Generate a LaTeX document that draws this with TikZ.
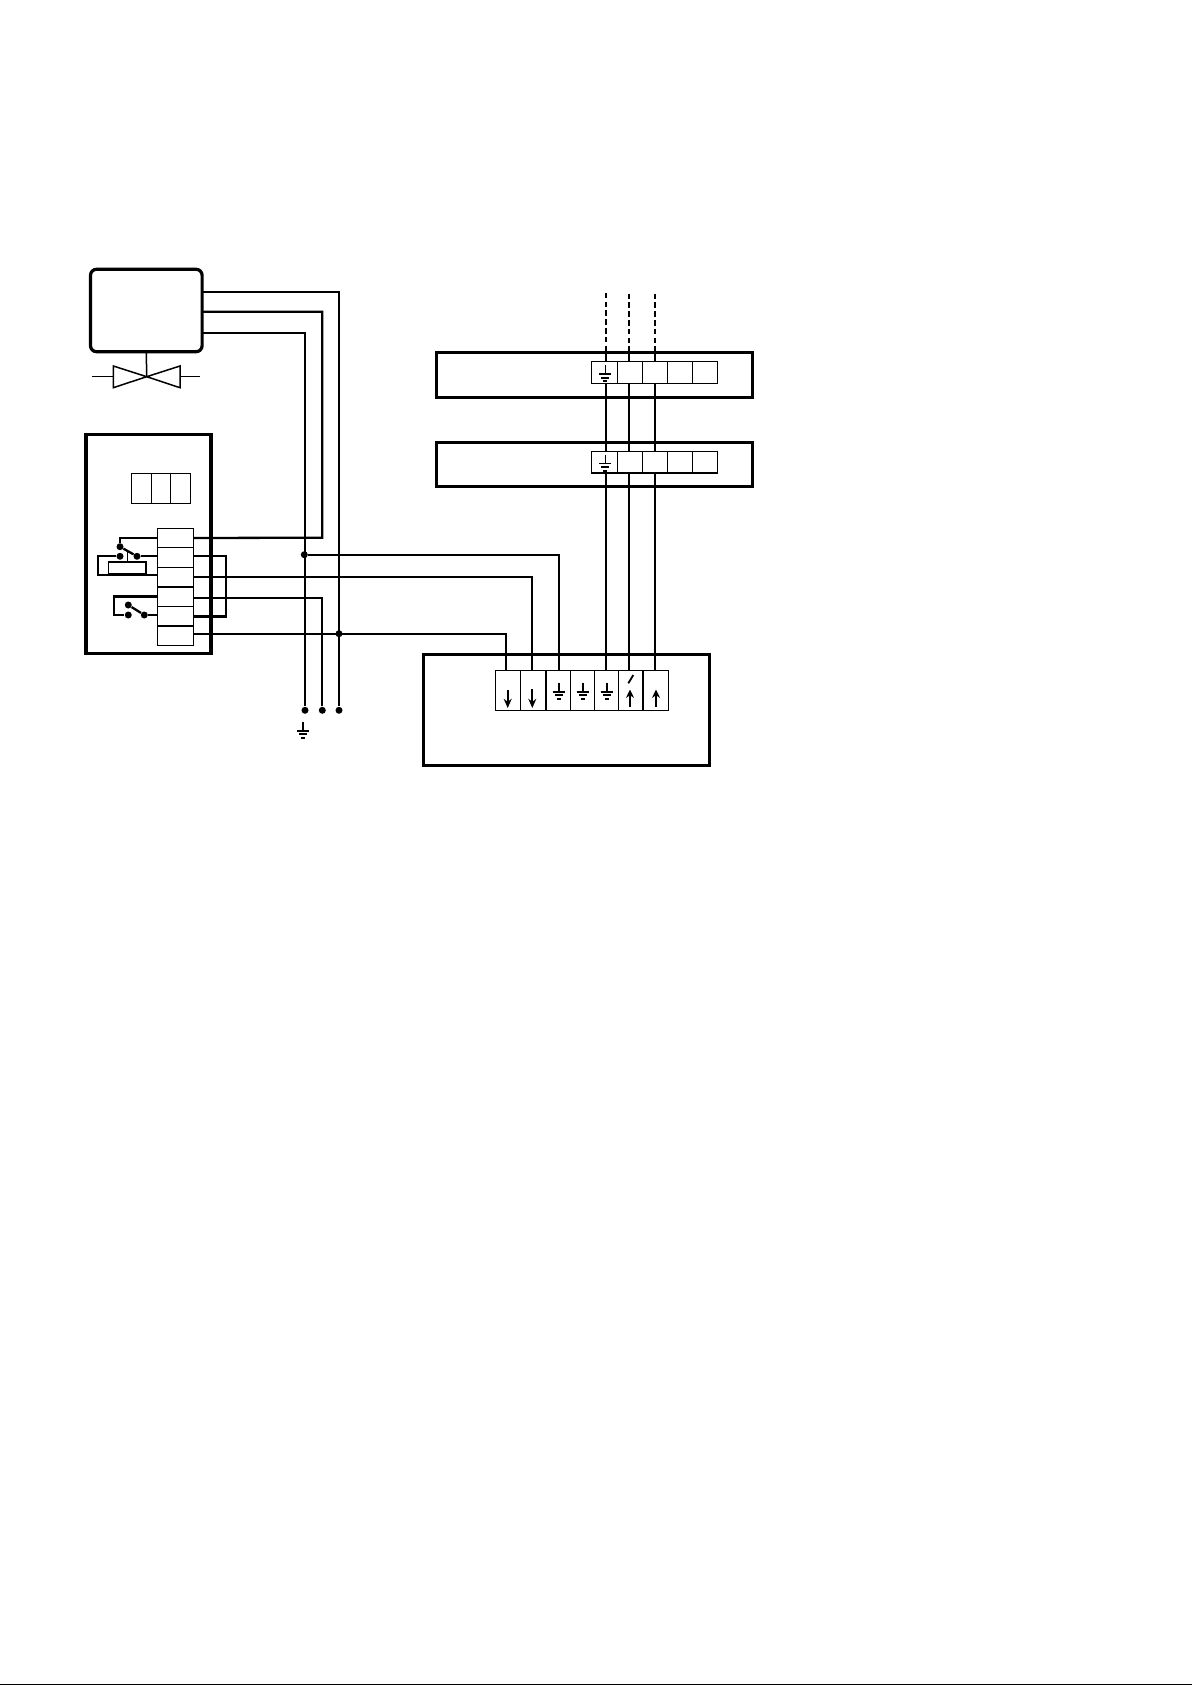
\documentclass[tikz,border=0pt]{standalone}
\usepackage{amsmath}
\usepackage{amssymb}
\usepackage{tikz}
\usetikzlibrary{arrows.meta}

\begin{document}
\begin{tikzpicture}[x=0.5pt,y=-0.5pt]
\tikzstyle{fil}=[line width=1.15pt]
\tikzstyle{pointille}=[line width=1.15pt,dash pattern=on 2.8pt off 1.6pt]
\tikzstyle{fleche}=[-{Stealth[length=4.6pt,width=4pt]},line width=0.9pt]
\tikzstyle{flechehaut}=[-{Stealth[length=4.2pt,width=4pt]},line width=1.2pt]
\tikzset{boitier/.style={draw,line width=1.6pt,inner sep=0,outer sep=0,minimum width=#1},
boitier/.default={10pt},
borne/.style={draw,line width=0.75pt,inner sep=0,outer sep=0,minimum width=#1},
borne/.default={12.5pt},
point/.style={circle,fill,inner sep=0,minimum size=3.5pt},
masse/.pic={
\draw[line width=0.8pt] (0,-9) -- (0,0);
\draw[line width=0.9pt] (-6,0) -- (6,0);
\draw[line width=0.9pt] (-4,3.5) -- (4,3.5);
\draw[line width=1pt] (-2,7) -- (2,7);
}}
\useasboundingbox (0,0) rectangle (1192,1685);

% actionneur et vanne
\node[boitier=55.8pt,minimum height=41.2pt,rounded corners=3pt] (act) at (146.3,310.5) {};
\coordinate (pivot) at (146.7,376.7);
\coordinate (vg) at (113.3,376.7);
\coordinate (vd) at (180,376.7);
\coordinate (tg) at (91.7,376.7);
\coordinate (td) at (200,376.7);
\draw[line width=0.75pt] (act.south) -- (pivot);
\draw[line width=0.75pt] (pivot) -- (113.3,366) -- (113.3,387.7) -- cycle;
\draw[line width=0.75pt] (pivot) -- (180,366) -- (180,387.7) -- cycle;
\draw[line width=0.75pt] (tg) -- (vg);
\draw[line width=0.75pt] (vd) -- (td);

% regulateur
\node[boitier=62.5pt,minimum height=109.7pt] (reg) at (148.5,544) {};
\node[borne=9.8pt,minimum height=14.8pt] (af1) at (141.5,488.5) {};
\node[borne=9.7pt,minimum height=14.8pt] (af2) at (161,488.5) {};
\node[borne=9.8pt,minimum height=14.8pt] (af3) at (180.5,488.5) {};

\node[borne=17.8pt,minimum height=9.7pt] (T1) at (175.5,538) {};
\node[borne=17.8pt,minimum height=9.8pt] (T2) at (175.5,557.5) {};
\node[borne=17.8pt,minimum height=9.8pt] (T3) at (175.5,577.1) {};
\node[borne=17.8pt,minimum height=9.7pt] (T4) at (175.5,596.6) {};
\node[borne=17.8pt,minimum height=9.8pt] (T5) at (175.5,616.1) {};
\node[borne=17.8pt,minimum height=9.8pt] (T6) at (175.5,635.8) {};

% relais
\node[borne=18.7pt,minimum height=5.8pt] (bobine) at (127.3,567.8) {};
\node[point] (p1) at (120,546.7) {};
\node[point] (p2) at (120,556.3) {};
\node[point] (p3) at (137,556.3) {};
\node[point] (p4) at (128.3,615) {};
\node[point] (p5) at (128.3,605) {};
\node[point] (p6) at (144.3,615) {};
\coordinate (bras) at (127.3,550.8);
\coordinate (r1) at (98,575.3);
\coordinate (r2) at (113.7,605);
\draw[fil] (T1.west) -| (p1);
\draw[fil] (p1) -- (p3);
\draw[fil] (p3) -- (p3 -| T2.west);
\draw[fil] (p2) -| (r1) -- (r1 -| T3.west);
\draw[line width=0.75pt] (bobine.north) -- (bras);
\draw[fil] (T4.west) -| (r2) |- (p4);
\draw[fil] (p5) -- (p6);
\draw[fil] (p6) -- (p6 -| T5.west);

% bas du cablage
\node[point] (b1) at (305,710.3) {};
\node[point] (b2) at (322.3,710.3) {};
\node[point] (b3) at (339,710.3) {};
\pic at (303,730.7) {masse};

% appareil du bas
\node[boitier=143pt,minimum height=55.5pt] (app) at (566.3,709.8) {};
\node[borne=12.5pt,minimum height=19.8pt] (D1) at (508.2,690.5) {};
\node[borne=12.65pt,minimum height=19.8pt] (D2) at (533.3,690.5) {};
\node[borne=12.15pt,minimum height=19.8pt] (D3) at (558.15,690.5) {};
\node[borne=12pt,minimum height=19.8pt] (D4) at (582.3,690.5) {};
\node[borne=12pt,minimum height=19.8pt] (D5) at (606.3,690.5) {};
\node[borne=12.35pt,minimum height=19.8pt] (D6) at (630.65,690.5) {};
\node[borne=12.65pt,minimum height=19.8pt] (D7) at (655.65,690.5) {};
\draw[fleche] (507.7,690) -- (507.7,708);
\draw[fleche] (532.3,689) -- (532.3,708);
\pic at (559,691.7) {masse};
\pic at (582.7,691.7) {masse};
\pic at (606.7,691.7) {masse};
\draw[line width=0.9pt] (628.3,683.3) -- (633.3,675);
\draw[flechehaut] (630,707) -- (630,689.5);
\draw[flechehaut] (656,707) -- (656,689.5);

% les deux modules du haut
\node[boitier=158.2pt,minimum height=22.4pt] (modA) at (594.5,374.7) {};
\node[boitier=158.2pt,minimum height=22pt] (modB) at (594.5,464.5) {};
\node[borne=12.8pt,minimum height=11pt] (A1) at (604.5,372.7) {};
\node[borne=12.5pt,minimum height=11pt] (A2) at (629.8,372.7) {};
\node[borne=12.5pt,minimum height=11pt] (A3) at (654.8,372.7) {};
\node[borne=12.7pt,minimum height=11pt] (A4) at (680,372.7) {};
\node[borne=12.5pt,minimum height=11pt] (A5) at (705.2,372.7) {};
\node[borne=12.8pt,minimum height=10.7pt] (B1) at (604.5,462.3) {};
\node[borne=12.5pt,minimum height=10.7pt] (B2) at (629.8,462.3) {};
\node[borne=12.5pt,minimum height=10.7pt] (B3) at (654.8,462.3) {};
\node[borne=12.7pt,minimum height=10.7pt] (B4) at (680,462.3) {};
\node[borne=12.5pt,minimum height=10.7pt] (B5) at (705.2,462.3) {};
\pic at (605.3,374.3) {masse};
\pic at (605.3,463.5) {masse};

% liaisons
\coordinate (c1) at (322.3,537.7);
\coordinate (c2) at (226,586);
\draw[fil] ([yshift=9.1pt]act.east) -| (b3);
\draw[fil] ([yshift=-0.6pt]act.east) -| (c1) -- (T1.east);
\draw[fil] ([yshift=-11.1pt]act.east) -| (b1);
\draw[line width=1.4pt] ([yshift=0.75pt]T2.east) -| (c2) |- (T5.east);
\draw[fil] (T3.east) -| ([xshift=-0.6pt]D2.north);
\draw[fil] ([yshift=-0.8pt]T4.east) -| (b2);
\draw[fil] ([yshift=1pt]T6.east) -| ([xshift=-1.1pt]D1.north);
\node[point] (j1) at (304.3,554.7) {};
\node[point] (j2) at (339,633.7) {};
\draw[fil] (j1) -| ([xshift=0.4pt]D3.north);

\coordinate (h1) at (605.7,292.7);
\coordinate (h2) at (628.7,293.5);
\coordinate (h3) at (655,293.5);
\draw[pointille] (h1) -- (h1 |- modA.north);
\draw[pointille] (h2) -- (h2 |- modA.north);
\draw[pointille] (h3) -- (h3 |- modA.north);
\draw[fil] (h1 |- modA.north) -- (h1 |- A1.north);
\draw[fil] (h2 |- modA.north) -- (h2 |- A2.north);
\draw[fil] (h3 |- modA.north) -- (h3 |- A3.north);
\draw[fil] (h1 |- A1.south) -- (h1 |- B1.north);
\draw[fil] (h2 |- A2.south) -- (h2 |- B2.north);
\draw[fil] (h3 |- A3.south) -- (h3 |- B3.north);
\draw[fil] (h1 |- B1.south) -- (h1 |- D5.north);
\draw[fil] (h2 |- B2.south) -- (h2 |- D6.north);
\draw[fil] (h3 |- B3.south) -- (h3 |- D7.north);

% trait du bas de page
\coordinate (bas1) at (0,1684.5);
\coordinate (bas2) at (1192,1684.5);
\draw[line width=0.8pt] (bas1) -- (bas2);

\end{tikzpicture}
\end{document}
